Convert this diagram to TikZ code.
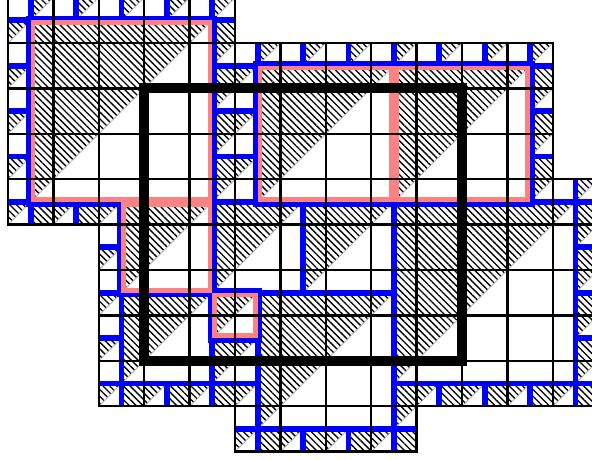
\documentclass[tikz,border=0pt]{standalone}
\usetikzlibrary{patterns.meta}
\definecolor{cellblue}{RGB}{0,0,255}
\definecolor{corepink}{RGB}{255,130,130}
\begin{document}
\begin{tikzpicture}[x=1cm,y=-1cm,
  hatch/.style={pattern={Lines[angle=-45,distance=3pt,line width=0.85pt]}},
  hypo/.style={draw=black!30,line width=0.5pt},
  blueline/.style={draw=cellblue,line width=3.6pt},
  bluerim/.style={draw=cellblue,line width=2.9pt},
  pinkline/.style={draw=corepink,line width=2.9pt},
  gridline/.style={draw=black,line width=1.4pt},
  querybox/.style={draw=black,line width=6.2pt,line join=miter}]
\def\unitcells{-0.5/-0.5, 0.5/-0.5, 1.5/-0.5, 2.5/-0.5, 3.5/-0.5, 4.5/-0.5,
  -0.5/0.5, 4.5/0.5, 5.5/0.5, 6.5/0.5, 7.5/0.5, 8.5/0.5, 9.5/0.5, 10.5/0.5, 11.5/0.5,
  -0.5/1.5, -0.5/2.5, -0.5/3.5, 4.5/1.5, 4.5/2.5, 4.5/3.5, 11.5/1.5, 11.5/2.5, 11.5/3.5, 12.5/3.5,
  -0.5/4.5, 0.5/4.5, 1.5/4.5, 12.5/4.5,
  1.5/5.5, 1.5/6.5, 1.5/7.5, 12.5/5.5, 12.5/6.5, 12.5/7.5, 4.5/7.5,
  1.5/8.5, 2.5/8.5, 3.5/8.5, 4.5/8.5, 8.5/8.5, 9.5/8.5, 10.5/8.5, 11.5/8.5, 12.5/8.5,
  4.5/9.5, 5.5/9.5, 6.5/9.5, 7.5/9.5, 8.5/9.5}
\def\blueblocks{4.5/4.5/2, 6.5/4.5/2, 2.5/6.5/2, 5.5/6.5/3, 8.5/4.5/4}
\def\pinkblocks{0.5/0.5/4, 5.5/1.5/3, 8.5/1.5/3, 2.5/4.5/2, 4.5/6.5/1}
\useasboundingbox (-0.176,0.053) rectangle (12.863,10.163);
\begin{scope}
\clip (0,0) -- (5,0) -- (5,1) -- (12,1) -- (12,4) -- (13.5,4) -- (13.5,9) -- (9,9) -- (9,10) -- (5,10) -- (5,9) -- (2,9) -- (2,5) -- (0,5) -- cycle;
% hatched upper-left triangles of the larger blocks
\foreach \a/\b/\n in \pinkblocks{
  \fill[hatch] (\a,\b) -- ++(\n,0) -- ++(-\n,\n) -- cycle;
  \draw[hypo] (\a+\n,\b) -- (\a,\b+\n);
}
\foreach \a/\b/\n in \blueblocks{
  \fill[hatch] (\a,\b) -- ++(\n,0) -- ++(-\n,\n) -- cycle;
  \draw[hypo] (\a+\n,\b) -- (\a,\b+\n);
}
% hatched upper-left triangles of the unit cells
\foreach \a/\b in \unitcells{
  \fill[hatch] (\a,\b) -- ++(1,0) -- ++(-1,1) -- cycle;
  \draw[hypo] (\a+1,\b) -- (\a,\b+1);
}
% blue borders of the blue blocks and unit cells
\foreach \a/\b/\n in \blueblocks{
  \draw[blueline] (\a,\b) rectangle ++(\n,\n);
}
\foreach \a/\b in \unitcells{
  \draw[blueline] (\a,\b) rectangle ++(1,1);
}
% blue rim just outside the pink cores
\foreach \a/\b/\w/\h in {0.5/0.5/4/4, 5.5/1.5/6/3, 2.5/4.5/2/2, 4.5/6.5/1/1}{
  \draw[bluerim] ([shift={(-1.45pt,1.45pt)}]\a,\b) rectangle ([shift={(1.45pt,-1.45pt)}]\a+\w,\b+\h);
}
% pink cores (drawn just inside their boundary)
\foreach \a/\b/\n in \pinkblocks{
  \draw[pinkline] ([shift={(1.45pt,-1.45pt)}]\a,\b) rectangle ([shift={(-1.45pt,1.45pt)}]\a+\n,\b+\n);
}
\end{scope}
% coarse grid
\foreach \i in {0,...,4} \draw[gridline] (\i,0) rectangle ++(1,1);
\foreach \j in {1,2,3} \foreach \i in {0,...,11} \draw[gridline] (\i,\j) rectangle ++(1,1);
\foreach \i in {0,...,12} \draw[gridline] (\i,4) rectangle ++(1,1);
\foreach \j in {5,6,7,8} \foreach \i in {2,...,12} \draw[gridline] (\i,\j) rectangle ++(1,1);
\foreach \i in {5,...,8} \draw[gridline] (\i,9) rectangle ++(1,1);
% query box
\draw[querybox] (3,2) rectangle (10,8);
\end{tikzpicture}
\end{document}
